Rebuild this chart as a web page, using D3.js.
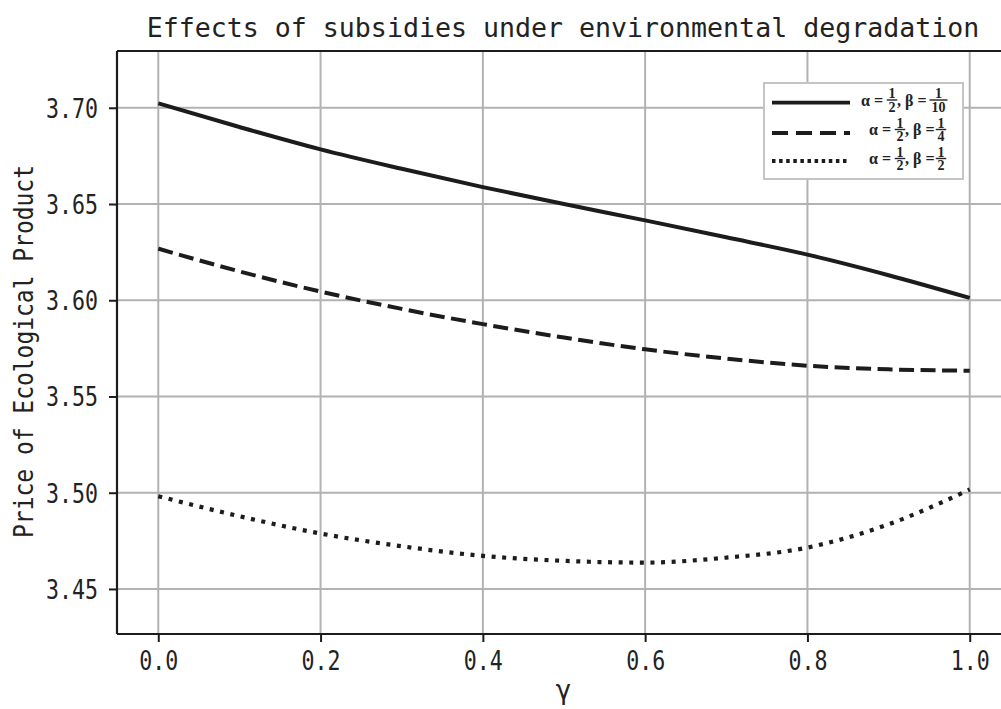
<!DOCTYPE html>
<html>
<head>
<meta charset="utf-8">
<script src="https://cdn.jsdelivr.net/npm/d3@7"></script>
<style>
  html, body { margin: 0; padding: 0; background: #fff; }
  svg { display: block; }
</style>
</head>
<body>
<svg id="chart" width="1001" height="709"></svg>
<script>
// ---------- data ----------
const gammaValues = [0, 0.1, 0.2, 0.3, 0.4, 0.5, 0.6, 0.7, 0.8, 0.9, 1.0];
const priceBeta1over10 = [3.7023, 3.6900, 3.6784, 3.6683, 3.6588, 3.6500, 3.6415, 3.6327, 3.6237, 3.6130, 3.6012];
const priceBeta1over4  = [3.6268, 3.6150, 3.6045, 3.5955, 3.5876, 3.5806, 3.5745, 3.5697, 3.5660, 3.5641, 3.5634];
const priceBeta1over2  = [3.4982, 3.4878, 3.4788, 3.4722, 3.4672, 3.4646, 3.4637, 3.4663, 3.4715, 3.4836, 3.5017];

const xTickValues = [0, 0.2, 0.4, 0.6, 0.8, 1.0];
const xTickLabels = ["0.0", "0.2", "0.4", "0.6", "0.8", "1.0"];
const yTickValues = [3.45, 3.50, 3.55, 3.60, 3.65, 3.70];
const yTickLabels = ["3.45", "3.50", "3.55", "3.60", "3.65", "3.70"];

const seriesNames = ["beta=1/10", "beta=1/4", "beta=1/2"];
const alphaFraction = ["1", "2"];
const betaNumerators = ["1", "1", "1"];
const betaDenominators = ["10", "4", "2"];

const titleText = "Effects of subsidies under environmental degradation";
const xLabelText = "γ";
const yLabelText = "Price of Ecological Product";

// ---------- layout ----------
const svg = d3.select("#chart");
const plotLeft = 117, plotRight = 1010.3, plotTop = 51, plotBottom = 634;
const x = d3.scaleLinear().domain([-0.05, 1.05]).range([117.7, 1010.3]);
const y = d3.scaleLinear().domain([3.4266, 3.7295]).range([plotBottom, plotTop]);

const mono = "'DejaVu Sans Mono', 'Liberation Mono', monospace";
const gridColor = "#b2b2b2";
const inkColor = "#1c1c1c";

svg.append("rect").attr("width", 1001).attr("height", 709).attr("fill", "#fff");

svg.append("defs").append("clipPath").attr("id", "plotclip")
  .append("rect").attr("x", plotLeft).attr("y", plotTop)
  .attr("width", plotRight - plotLeft).attr("height", plotBottom - plotTop);

// grid
const grid = svg.append("g");
grid.selectAll("line.gx").data(xTickValues).enter().append("line")
  .attr("x1", d => x(d)).attr("x2", d => x(d))
  .attr("y1", plotTop).attr("y2", plotBottom)
  .attr("stroke", gridColor).attr("stroke-width", 2);
grid.selectAll("line.gy").data(yTickValues).enter().append("line")
  .attr("x1", plotLeft).attr("x2", plotRight)
  .attr("y1", d => y(d)).attr("y2", d => y(d))
  .attr("stroke", gridColor).attr("stroke-width", 2);

// curves
const line = d3.line()
  .x((d, i) => x(gammaValues[i]))
  .y(d => y(d))
  .curve(d3.curveMonotoneX);

const curves = svg.append("g").attr("clip-path", "url(#plotclip)");
const seriesData = [priceBeta1over10, priceBeta1over4, priceBeta1over2];
const seriesDash = [null, "15,6.5", "4,6.6"];
const seriesWidth = [4, 4, 4.2];
seriesData.forEach((vals, k) => {
  const p = curves.append("path")
    .attr("d", line(vals))
    .attr("fill", "none")
    .attr("stroke", inkColor)
    .attr("stroke-width", seriesWidth[k])
    .attr("stroke-linecap", "butt");
  if (seriesDash[k]) p.attr("stroke-dasharray", seriesDash[k]);
});

// axes
const yAxis = d3.axisLeft(y).tickValues(yTickValues)
  .tickFormat((d, i) => yTickLabels[i]).tickSize(8).tickPadding(11);
const gy = svg.append("g").attr("transform", `translate(${plotLeft},0)`).call(yAxis);
gy.select(".domain").remove();
gy.selectAll(".tick line").attr("stroke", inkColor).attr("stroke-width", 2);
gy.selectAll(".tick text")
  .attr("font-family", mono).attr("font-size", 26).attr("fill", "#222")
  .attr("textLength", 52).attr("lengthAdjust", "spacingAndGlyphs")
  .attr("dy", "0.36em");

const xAxis = d3.axisBottom(x).tickValues(xTickValues)
  .tickFormat((d, i) => xTickLabels[i]).tickSize(8).tickPadding(10);
const gx = svg.append("g").attr("transform", `translate(0,${plotBottom})`).call(xAxis);
gx.select(".domain").remove();
gx.selectAll(".tick line").attr("stroke", inkColor).attr("stroke-width", 2);
gx.selectAll(".tick text")
  .attr("font-family", mono).attr("font-size", 26).attr("fill", "#222")
  .attr("textLength", 39).attr("lengthAdjust", "spacingAndGlyphs");

// spines
const spines = svg.append("g").attr("stroke", inkColor).attr("stroke-width", 2.2).attr("fill", "none");
spines.append("line").attr("x1", plotLeft).attr("x2", plotLeft).attr("y1", plotTop).attr("y2", plotBottom);
spines.append("line").attr("x1", plotLeft).attr("x2", plotRight).attr("y1", plotBottom).attr("y2", plotBottom);
spines.append("line").attr("x1", plotLeft).attr("x2", plotRight).attr("y1", plotTop).attr("y2", plotTop);

// title & labels
svg.append("text").text(titleText)
  .attr("x", 563).attr("y", 37).attr("text-anchor", "middle")
  .attr("font-family", mono).attr("font-size", 26.6).attr("fill", "#222");

svg.append("text").text(xLabelText)
  .attr("x", 563.5).attr("y", 699).attr("text-anchor", "middle")
  .attr("font-family", mono).attr("font-size", 26).attr("fill", "#222");

svg.append("text").text(yLabelText)
  .attr("transform", "translate(33,351.5) rotate(-90)")
  .attr("text-anchor", "middle")
  .attr("font-family", mono).attr("font-size", 26).attr("fill", "#222")
  .attr("textLength", 373).attr("lengthAdjust", "spacingAndGlyphs");

// legend
const lg = svg.append("g");
lg.append("rect").attr("x", 764).attr("y", 83).attr("width", 199).attr("height", 96)
  .attr("fill", "#fff").attr("stroke", "#c4c4c4").attr("stroke-width", 2);

const rowLineY = [102.7, 133, 161];
const rowMidY = [100, 129.5, 158.5];
const rowTextX = [861, 869, 869];
const legendDash = [null, "16,8", "3.5,3.6"];
const serif = "'Liberation Serif', 'DejaVu Serif', serif";

function fraction(g, cx, midY, num, den) {
  const w = Math.max(num.length, den.length) * 7.5 + 3;
  g.append("line").attr("x1", cx - w / 2).attr("x2", cx + w / 2)
    .attr("y1", midY).attr("y2", midY).attr("stroke", "#222").attr("stroke-width", 1.4);
  g.append("text").text(num).attr("x", cx).attr("y", midY - 2).attr("text-anchor", "middle")
    .attr("font-family", serif).attr("font-weight", "bold").attr("font-size", 14).attr("fill", "#222");
  g.append("text").text(den).attr("x", cx).attr("y", midY + 11.5).attr("text-anchor", "middle")
    .attr("font-family", serif).attr("font-weight", "bold").attr("font-size", 14).attr("fill", "#222");
}

seriesNames.forEach((name, k) => {
  const row = lg.append("g");
  const l = row.append("line").attr("x1", 772).attr("x2", 850)
    .attr("y1", rowLineY[k]).attr("y2", rowLineY[k])
    .attr("stroke", inkColor).attr("stroke-width", 3.8);
  if (legendDash[k]) l.attr("stroke-dasharray", legendDash[k]);
  const tx = rowTextX[k];
  const base = rowMidY[k] + 5.5;
  row.append("text").text("α =").attr("x", tx).attr("y", base)
    .attr("font-family", serif).attr("font-weight", "bold").attr("font-size", 16).attr("fill", "#222");
  fraction(row, tx + 31, rowMidY[k], alphaFraction[0], alphaFraction[1]);
  row.append("text").text(", β =").attr("x", tx + 36).attr("y", base)
    .attr("font-family", serif).attr("font-weight", "bold").attr("font-size", 16).attr("fill", "#222");
  fraction(row, tx + (k === 0 ? 77.5 : 72), rowMidY[k], betaNumerators[k], betaDenominators[k]);
});
</script>
</body>
</html>
